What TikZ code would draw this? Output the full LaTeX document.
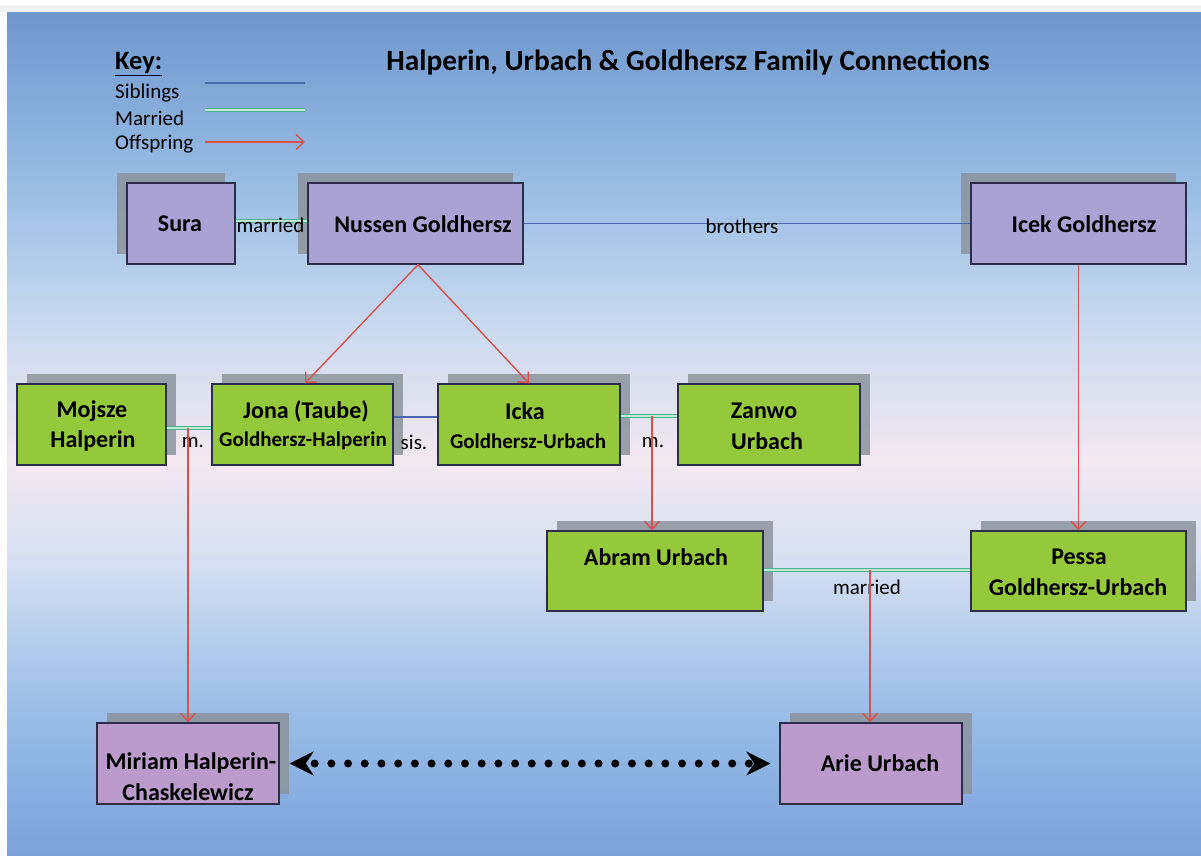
\documentclass[tikz,border=0pt]{standalone}
\usepackage{fontspec}
\setmainfont{Carlito}
\usetikzlibrary{arrows.meta,shadows}
\definecolor{bgA}{HTML}{6F97CE}
\definecolor{bgB}{HTML}{9EC0E6}
\definecolor{bgC}{HTML}{CBDAEF}
\definecolor{bgD}{HTML}{F3E8F0}
\definecolor{bgE}{HTML}{D6E0F2}
\definecolor{bgF}{HTML}{9DBFE8}
\definecolor{bgG}{HTML}{7BA2DA}
\definecolor{topfill}{HTML}{AAA2D4}
\definecolor{botfill}{HTML}{BA9BCB}
\definecolor{greenfill}{HTML}{96C83C}
\definecolor{boxline}{HTML}{2B2D4A}
\definecolor{shadowc}{HTML}{8C949C}
\definecolor{sibc}{HTML}{4A66AE}
\definecolor{marc}{HTML}{4DB38A}
\definecolor{margap}{HTML}{BDE9D6}
\definecolor{offc}{HTML}{D9504E}
\begin{document}
\begin{tikzpicture}[x=1pt,y=-1pt,
  boxbase/.style={draw=boxline, line width=1.4pt, inner sep=0pt, minimum height=81pt},
  upleft/.style={general shadow={fill=shadowc, opacity=.85, shadow xshift=-10pt, shadow yshift=10pt}},
  upright/.style={general shadow={fill=shadowc, opacity=.85, shadow xshift=10pt, shadow yshift=10pt}},
  topbox/.style={boxbase, fill=topfill, upleft},
  greenbox/.style={boxbase, fill=greenfill, upright},
  botbox/.style={boxbase, fill=botfill, upright},
  nameA/.style={font=\fontsize{24}{28}\selectfont\bfseries, inner sep=0pt},
  nameB/.style={font=\fontsize{21}{25}\selectfont\bfseries, inner sep=0pt},
  lbl/.style={font=\fontsize{21}{25}\selectfont, inner sep=0pt},
  sibling/.style={draw=sibc, line width=1.3pt},
  married/.style={draw=marc, double=margap, double distance=1.8pt, line width=1.2pt},
  offspring/.style={draw=offc, line width=1.4pt, -{Straight Barb[length=8pt,width=15pt,line width=1.4pt]}},
  dotted link/.style={line width=8pt, line cap=round, dash pattern=on 0pt off 16.7pt, dash phase=7.7pt,
    {Stealth[length=24pt,width=24pt,inset=8pt,line width=0.1pt]}-{Stealth[length=24pt,width=24pt,inset=8pt,line width=0.1pt]}}
]
\useasboundingbox (0,0) rectangle (1201,855);
% background
\fill[white] (0,0) rectangle (1201,855);
\fill[black!5] (0,5) rectangle (1201,12);
\shade[top color=bgA, bottom color=bgB] (7,12) rectangle (1201,200.5);
\shade[top color=bgB, bottom color=bgC] (7,200) rectangle (1201,330.5);
\shade[top color=bgC, bottom color=bgD] (7,330) rectangle (1201,460.5);
\shade[top color=bgD, bottom color=bgE] (7,460) rectangle (1201,560.5);
\shade[top color=bgE, bottom color=bgF] (7,560) rectangle (1201,700.5);
\shade[top color=bgF, bottom color=bgG] (7,700) rectangle (1201,855);

% title and key
\node[font=\fontsize{29.3}{34}\selectfont\bfseries, inner sep=0pt] (title) at (688,62) {Halperin, Urbach \& Goldhersz Family Connections};
\node[font=\fontsize{26.5}{31}\selectfont\bfseries, inner sep=0pt, anchor=west] (key) at (115,64) {\underline{Key:}};
\node[lbl, anchor=west] (ksib) at (115,93) {Siblings};
\node[lbl, anchor=west] (kmar) at (115,118) {Married};
\node[lbl, anchor=west] (koff) at (115,144) {Offspring};
\coordinate (ks1) at (205,83); \coordinate (ks2) at (305,83);
\coordinate (km1) at (205,110); \coordinate (km2) at (305,110);
\coordinate (ko1) at (205,142); \coordinate (ko2) at (305,142);
\draw[sibling] (ks1) -- (ks2);
\draw[married] (km1) -- (km2);
\draw[offspring] (ko1) -- (ko2);

% boxes
\node[topbox, minimum width=108pt] (sura) at (181,223.5) {};
\node[topbox, minimum width=215pt] (nussen) at (415.5,223.5) {};
\node[topbox, minimum width=215pt] (icek) at (1078.5,223.5) {};
\node[greenbox, minimum width=149pt] (mojsze) at (91.5,424.5) {};
\node[greenbox, minimum width=181pt] (jona) at (302.5,424.5) {};
\node[greenbox, minimum width=182pt] (icka) at (529,424.5) {};
\node[greenbox, minimum width=182pt] (zanwo) at (769,424.5) {};
\node[greenbox, minimum width=216pt, minimum height=80pt] (abram) at (655,571) {};
\node[greenbox, minimum width=215pt, minimum height=80pt] (pessa) at (1078.5,571) {};
\node[botbox, minimum width=182pt] (miriam) at (188,763.5) {};
\node[botbox, minimum width=182pt] (arie) at (871,763.5) {};

% box texts
\node[nameA] (suraT) at (180,224) {Sura};
\node[nameA] (nussenT) at (423,224) {Nussen Goldhersz};
\node[nameA] (icekT) at (1084,224) {Icek Goldhersz};
\node[nameA] (mojszeA) at (92,411) {Mojsze};
\node[nameA] (mojszeB) at (93,441) {Halperin};
\node[nameA] (jonaA) at (306,411) {Jona (Taube)};
\node[nameB] (jonaB) at (303,441) {Goldhersz-Halperin};
\node[nameA] (ickaA) at (525,411) {Icka};
\node[nameB] (ickaB) at (528,441) {Goldhersz-Urbach};
\node[nameA] (zanwoA) at (764,411) {Zanwo};
\node[nameA] (zanwoB) at (767,441) {Urbach};
\node[nameA] (abramT) at (656,557) {Abram Urbach};
\node[nameA] (pessaA) at (1079,557) {Pessa};
\node[nameA] (pessaB) at (1078,587) {Goldhersz-Urbach};
\node[nameA] (miriamA) at (191,763) {Miriam Halperin-};
\node[nameA] (miriamB) at (188,792) {Chaskelewicz};
\node[nameA] (arieT) at (880,763) {Arie Urbach};

% marriages and siblings
\draw[married] ([yshift=2.5pt]sura.east) -- ([yshift=2.5pt]nussen.west);
\node[lbl] (surml) at (270.5,225) {married};
\draw[sibling] (nussen.east) -- (icek.west);
\node[lbl] (broth) at (742,226) {brothers};
\draw[married] ([yshift=-3.5pt]mojsze.east) -- ([yshift=-3.5pt]jona.west);
\node[lbl] (mjl) at (193,442) {m.};
\draw[sibling] ([yshift=7.5pt]jona.east) -- ([yshift=7.5pt]icka.west);
\node[lbl] (sisl) at (414,442) {sis.};
\draw[married] ([yshift=8.5pt]icka.east) -- ([yshift=8.5pt]zanwo.west);
\node[lbl] (izl) at (653,442) {m.};
\draw[married] ([yshift=1pt]abram.east) -- ([yshift=1pt]pessa.west);
\node[lbl] (apl) at (867,587) {married};

% offspring
\coordinate (mj) at (188,428);
\coordinate (iz) at (652,416);
\coordinate (ap) at (870,570);
\draw[offspring] ([xshift=2.5pt]nussen.south) -- ([xshift=2.5pt]jona.north);
\draw[offspring] ([xshift=2.5pt]nussen.south) -- (icka.north);
\draw[offspring] (icek.south) -- (pessa.north);
\draw[offspring] (iz) -- (iz |- abram.north);
\draw[offspring] (mj) -- (mj |- miriam.north);
\draw[offspring] (ap) -- (ap |- arie.north);

% cousin link
\draw[dotted link] ([xshift=10pt]miriam.east) -- ([xshift=-9pt]arie.west);
\end{tikzpicture}
\end{document}
